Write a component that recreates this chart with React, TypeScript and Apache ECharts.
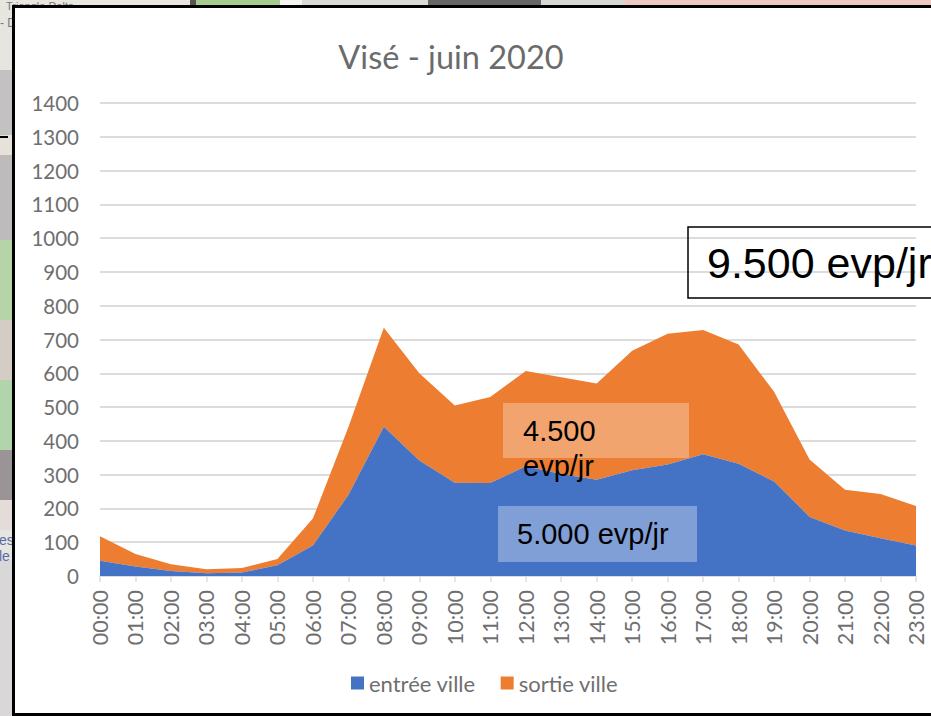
import React, { useEffect, useRef } from "react";
import * as echarts from "echarts";

const hours = ["00:00","01:00","02:00","03:00","04:00","05:00","06:00","07:00","08:00","09:00","10:00","11:00","12:00","13:00","14:00","15:00","16:00","17:00","18:00","19:00","20:00","21:00","22:00","23:00"];
const entreeVille = [45,28,15,8,10,32,90,240,442,342,276,275,325,302,285,313,330,360,332,280,175,135,112,90];
const sortieVille = [73,37,20,12,14,18,80,200,293,258,229,255,282,286,285,354,387,368,353,265,170,120,131,117];
const chartTitle = "Visé - juin 2020";
const totalLabel = "9.500 evp/jr";
const sortieLabel = ["4.500", "evp/jr"];
const entreeLabel = "5.000 evp/jr";

const BLUE = "#4472C4";
const ORANGE = "#ED7D31";
const GREY = "#6f6f6f";
const FONT = "Lato, 'Open Sans', sans-serif";
const ARIAL = "'Liberation Sans', Arial, sans-serif";

// Map backdrop patches behind the pasted chart: [x, y, width, height, colour]
const mapPatches: [number, number, number, number, string][] = [
  [0, 70, 13, 65, "#c4c1c3"],
  [0, 135, 13, 20, "#e6e2da"],
  [0, 155, 13, 85, "#bdbbbb"],
  [0, 240, 13, 80, "#b5d4a8"],
  [0, 320, 13, 60, "#d3cdc6"],
  [0, 380, 13, 70, "#b2d4aa"],
  [0, 450, 13, 50, "#9a9496"],
  [0, 500, 13, 30, "#e3dcd8"],
  [0, 560, 13, 156, "#d9d7d8"],
  [0, 0, 190, 6, "#e9e6df"],
  [190, 0, 6, 6, "#555555"],
  [196, 0, 84, 6, "#a5cc8e"],
  [280, 0, 22, 6, "#f4f4f0"],
  [302, 0, 126, 6, "#dcdad4"],
  [428, 0, 113, 6, "#666666"],
  [541, 0, 84, 6, "#d9d7d2"],
  [625, 0, 306, 6, "#eec9c4"],
];

export default function App() {
  const ref = useRef<HTMLDivElement>(null);
  useEffect(() => {
    document.body.style.margin = "0";
    const chart = echarts.init(ref.current!, null, { renderer: "svg" });
    chart.setOption({
      animation: false,
      backgroundColor: "#e7e5df",
      title: {
        text: chartTitle,
        left: 446,
        top: 35,
        textAlign: "center",
        textStyle: { fontFamily: FONT, fontSize: 32.5, fontWeight: "normal", color: "#6b6b6b" },
      },
      legend: {
        left: 346,
        top: 667,
        itemWidth: 13,
        itemHeight: 13,
        itemGap: 25,
        icon: "rect",
        textStyle: { fontFamily: FONT, fontSize: 22, color: GREY, padding: [0, 0, 0, 0] },
        data: ["entrée ville", "sortie ville"],
      },
      grid: { left: 100, right: 15, top: 103, bottom: 140, containLabel: false },
      xAxis: {
        type: "category",
        boundaryGap: false,
        data: hours,
        axisLine: { lineStyle: { color: "#dcdcdc", width: 1.5 } },
        axisTick: { show: true, length: 6, lineStyle: { color: "#dcdcdc", width: 1.5 } },
        axisLabel: { rotate: 90, interval: 0, margin: 14, fontFamily: FONT, fontSize: 21.5, color: GREY },
        splitLine: { show: false },
      },
      yAxis: {
        type: "value",
        min: 0,
        max: 1400,
        interval: 100,
        axisLine: { show: false },
        axisTick: { show: false },
        axisLabel: { margin: 21, fontFamily: FONT, fontSize: 20.5, color: GREY, formatter: (v: number) => String(v) },
        splitLine: { lineStyle: { color: "#dcdcdc", width: 2 } },
      },
      series: [
        {
          name: "entrée ville",
          type: "line",
          stack: "total",
          data: entreeVille,
          symbol: "none",
          lineStyle: { width: 0, color: BLUE },
          itemStyle: { color: BLUE },
          areaStyle: { color: BLUE, opacity: 1 },
          z: 3,
        },
        {
          name: "sortie ville",
          type: "line",
          stack: "total",
          data: sortieVille,
          symbol: "none",
          lineStyle: { width: 0, color: ORANGE },
          itemStyle: { color: ORANGE },
          areaStyle: { color: ORANGE, opacity: 1 },
          z: 2,
        },
      ],
      graphic: [
        ...mapPatches.map(([x, y, width, height, fill]) => ({
          type: "rect", z: -30, silent: true, shape: { x, y, width, height }, style: { fill },
        })),
        { type: "text", z: -20, x: 6, y: 0, style: { text: "Triangle Delta", fill: "#777", fontSize: 11, fontFamily: ARIAL } },
        { type: "text", z: -20, x: 0, y: 17, style: { text: "- D", fill: "#777", fontSize: 12, fontFamily: ARIAL } },
        { type: "text", z: -20, x: -1, y: 533, style: { text: "es", fill: "#5a6aa8", fontSize: 14, fontFamily: ARIAL } },
        { type: "text", z: -20, x: -1, y: 549, style: { text: "le", fill: "#5a6aa8", fontSize: 14, fontFamily: ARIAL } },
        { type: "line", z: -20, shape: { x1: 0, y1: 137, x2: 8, y2: 137 }, style: { stroke: "#000", lineWidth: 2 } },
        // Chart frame on the map backdrop
        { type: "rect", z: -10, silent: true, shape: { x: 13.5, y: 6.5, width: 930, height: 708 }, style: { fill: "#ffffff", stroke: "#000000", lineWidth: 3 } },
        // Semi-transparent boxes and annotations
        { type: "rect", z: 10, shape: { x: 503, y: 403, width: 186, height: 55 }, style: { fill: "rgba(255,255,255,0.3)" } },
        { type: "rect", z: 10, shape: { x: 498, y: 506, width: 199, height: 56 }, style: { fill: "rgba(255,255,255,0.32)" } },
        { type: "text", z: 11, x: 523, y: 416, style: { text: sortieLabel[0], fill: "#000", fontSize: 29, fontFamily: ARIAL } },
        { type: "text", z: 11, x: 523, y: 451, style: { text: sortieLabel[1], fill: "#000", fontSize: 29, fontFamily: ARIAL } },
        { type: "text", z: 11, x: 517, y: 519, style: { text: entreeLabel, fill: "#000", fontSize: 29, fontFamily: ARIAL } },
        { type: "rect", z: 10, shape: { x: 688, y: 227, width: 250, height: 71 }, style: { fill: "rgba(255,255,255,0)", stroke: "#000", lineWidth: 1.5 } },
        { type: "text", z: 11, x: 707, y: 241, style: { text: totalLabel, fill: "#000", fontSize: 43, fontFamily: ARIAL } },
      ],
    });
    return () => chart.dispose();
  }, []);
  return <div ref={ref} style={{ width: 931, height: 716 }} />;
}
